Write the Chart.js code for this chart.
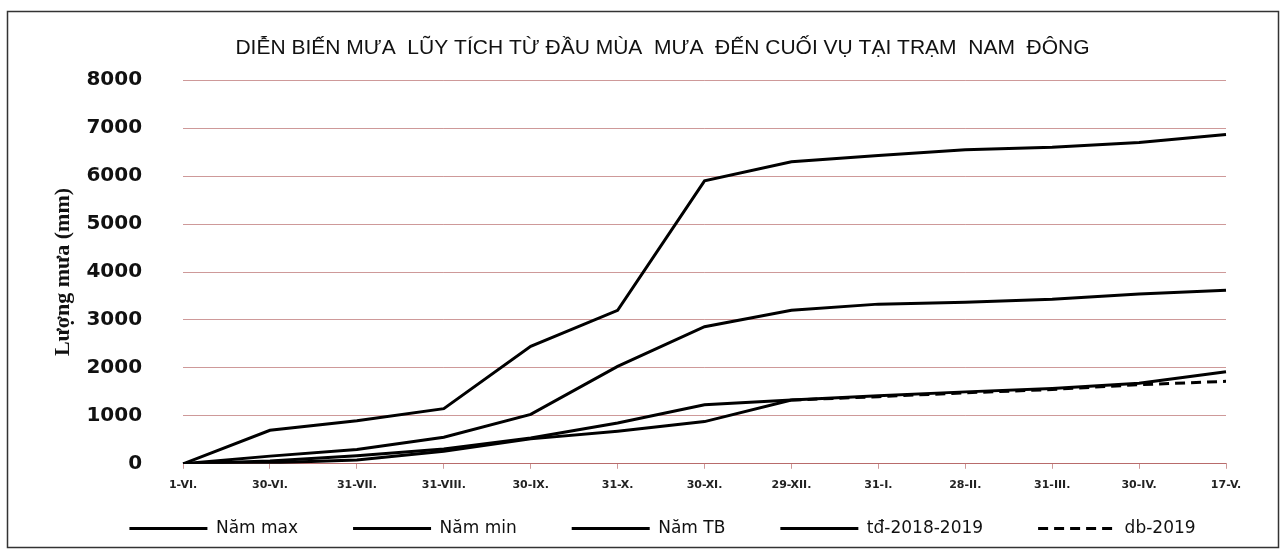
<!DOCTYPE html>
<html><head><meta charset="utf-8">
<script src="https://cdn.jsdelivr.net/npm/chart.js@4.4.0/dist/chart.umd.min.js"></script>
<style>html,body{margin:0;padding:0;background:#fff;}canvas{display:block}</style>
</head><body>
<canvas id="c" width="1288" height="558"></canvas>
<script>
const chartTitle = 'DIỄN BIẾN MƯA  LŨY TÍCH TỪ ĐẦU MÙA  MƯA  ĐẾN CUỐI VỤ TẠI TRẠM  NAM  ĐÔNG';
const yAxisTitle = 'Lượng mưa (mm)';
const categories = ['1-VI.','30-VI.','31-VII.','31-VIII.','30-IX.','31-X.','30-XI.','29-XII.','31-I.','28-II.','31-III.','30-IV.','17-V.'];
const seriesNames = ['Năm max','Năm min','Năm TB','tđ-2018-2019','db-2019'];
const namMax = [0, 700, 900, 1150, 2450, 3200, 5900, 6300, 6430, 6550, 6600, 6700, 6870];
const namMin = [0, 20, 80, 260, 520, 680, 880, 1330, 1420, 1500, 1570, 1680, 1920];
const namTB  = [0, 160, 300, 555, 1030, 2030, 2860, 3200, 3330, 3370, 3430, 3540, 3620];
const td20182019 = [0, 60, 170, 310, 540, 850, 1230, 1330, null, null, null, null, null];
const db2019 = [null, null, null, null, null, null, null, 1330, 1400, 1480, 1550, 1650, 1720];
const yTickValues = [0, 1000, 2000, 3000, 4000, 5000, 6000, 7000, 8000];

const GRID = 'rgba(165,70,70,0.55)';

const framePlugin = {
  id: 'frame',
  beforeDraw(chart) {
    const ctx = chart.ctx;
    ctx.save();
    ctx.fillStyle = '#fff';
    ctx.fillRect(0, 0, chart.width, chart.height);
    ctx.strokeStyle = '#333';
    ctx.lineWidth = 1.5;
    ctx.strokeRect(7.5, 11.5, 1271, 536);
    ctx.restore();
  }
};
const legendShift = {
  id: 'legendShift',
  afterLayout(chart) {
    const lg = chart.legend;
    if (lg) { lg.top -= 37; lg.bottom -= 37; }
  }
};

function ds(label, data, dash) {
  return {
    label, data,
    borderColor: '#000', backgroundColor: '#000',
    borderWidth: 3, borderDash: dash || [],
    pointRadius: 0, pointHoverRadius: 0,
    tension: 0, fill: false, spanGaps: false,
    yAxisID: 'y'
  };
}

new Chart(document.getElementById('c'), {
  type: 'line',
  data: {
    labels: categories,
    datasets: [
      ds(seriesNames[0], namMax),
      ds(seriesNames[1], namMin),
      ds(seriesNames[2], namTB),
      ds(seriesNames[3], td20182019),
      ds(seriesNames[4], db2019, [10, 6])
    ]
  },
  options: {
    responsive: false,
    animation: false,
    layout: { padding: { left: 50, right: 13, top: 36, bottom: -26 } },
    plugins: {
      title: {
        display: true, text: chartTitle,
        font: { family: 'Liberation Sans', size: 21, weight: 'normal' },
        color: '#111', padding: { top: 0, bottom: 19 }
      },
      legend: {
        position: 'bottom',
        labels: {
          usePointStyle: true, pointStyle: 'line', pointStyleWidth: 78,
          padding: 55, color: '#111',
          font: { family: 'DejaVu Sans', size: 17 },
          generateLabels(chart) {
            const items = Chart.defaults.plugins.legend.labels.generateLabels(chart);
            items.forEach(it => {
              const d = chart.data.datasets[it.datasetIndex];
              it.lineDash = d.borderDash;
              it.lineWidth = d.borderWidth;
              it.strokeStyle = d.borderColor;
            });
            return items;
          }
        }
      },
      tooltip: { enabled: false }
    },
    scales: {
      x: {
        type: 'category', offset: false,
        grid: { display: true, drawOnChartArea: false, drawTicks: true, tickLength: 5, color: GRID },
        border: { display: true, color: GRID, width: 1 },
        ticks: { padding: 10, autoSkip: false, maxRotation: 0, color: '#222',
          font: { family: 'DejaVu Sans', size: 11, weight: 'bold' } }
      },
      y: {
        min: 0, max: 8000,
        afterBuildTicks(s) { s.ticks = yTickValues.map(v => ({ value: v })); },
        ticks: { padding: 0, color: '#111', callback: v => String(v),
          font: { family: 'DejaVu Sans', size: 20, weight: 'bold' } },
        grid: { color: GRID, lineWidth: 1, drawTicks: true, tickLength: 41, tickColor: 'rgba(0,0,0,0)' },
        border: { display: false },
        title: { display: true, text: yAxisTitle, color: '#111',
          font: { family: 'Liberation Serif', size: 22, weight: 'bold' },
          padding: { top: 0, bottom: 10 } }
      },
      y2: {
        position: 'right', display: true,
        grid: { display: false }, ticks: { display: false }, border: { display: false },
        afterFit(s) { s.width = 49; }
      }
    }
  },
  plugins: [framePlugin, legendShift]
});
</script>
</body></html>
